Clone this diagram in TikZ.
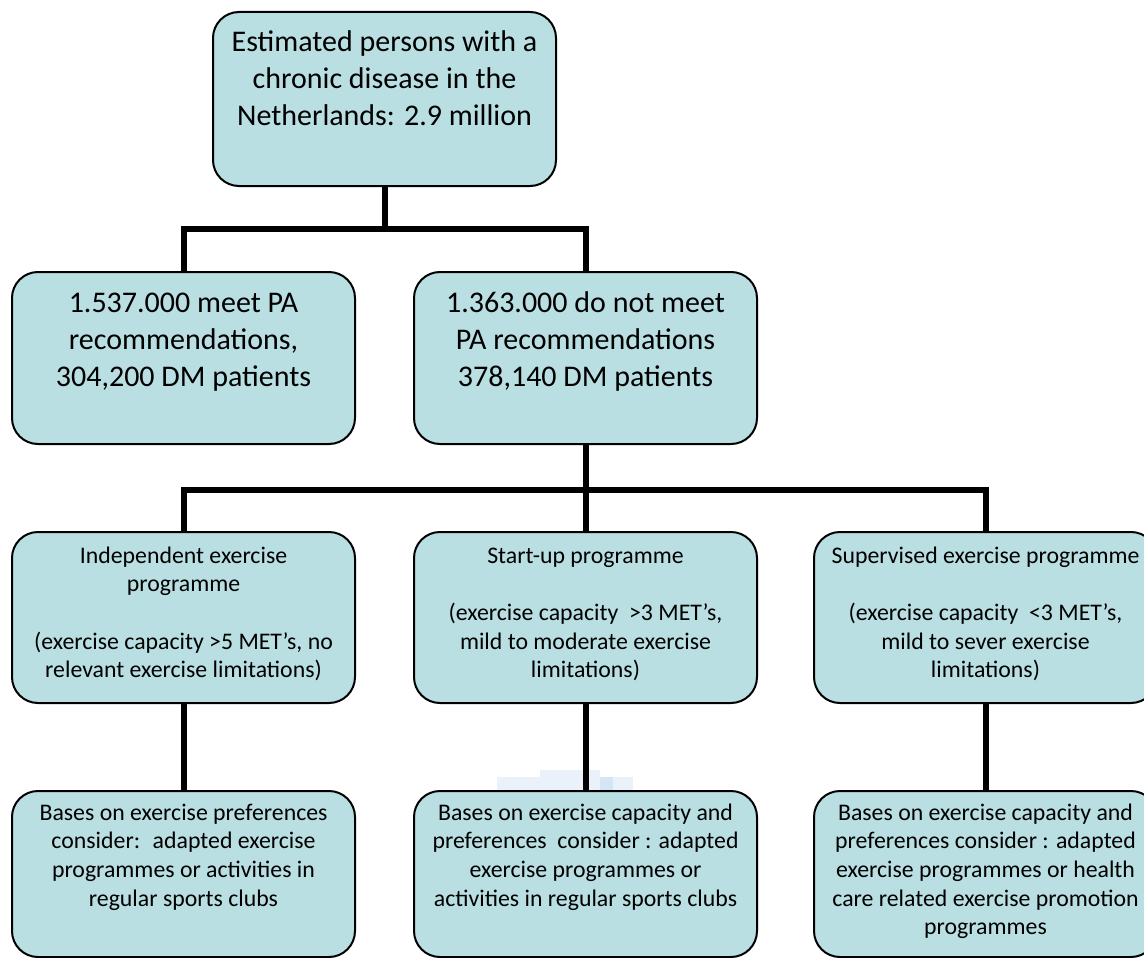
\documentclass[tikz,border=0pt]{standalone}
\usepackage{fontspec}
\setmainfont{Carlito}
\definecolor{boxfill}{RGB}{185,223,227}
\definecolor{smudgeA}{RGB}{234,241,250}
\definecolor{smudgeB}{RGB}{212,229,243}
\newcommand{\mytop}{\rule{0pt}{1em}}
\begin{document}
\begin{tikzpicture}[x=1pt,y=-1pt,
  box/.style={draw=black, line width=2pt, fill=boxfill, rounded corners=26pt,
    minimum width=343pt, minimum height=172pt, inner sep=0pt, outer sep=0pt, anchor=north west},
  big/.style={anchor=north, align=center, inner sep=0pt, font=\fontsize{30}{37}\selectfont},
  small/.style={anchor=north, align=center, inner sep=0pt, font=\fontsize{23.8}{28.7}\selectfont},
  conn/.style={line width=6pt, line join=miter}]
\useasboundingbox (0,0) rectangle (1144,958);
\clip (0,0) rectangle (1144,958);
% faint artefact
\fill[smudgeA] (497,777) rectangle (633,790);
\fill[smudgeA] (540,770) rectangle (600,777);
\fill[smudgeB] (600,777) rectangle (613,790);
% boxes
\node[box, minimum height=174pt] (top) at (213,12) {};
\node[box] (A) at (12,272) {};
\node[box] (B) at (414,272) {};
\node[box, minimum height=171pt] (C) at (12,532) {};
\node[box, minimum height=171pt] (D) at (414,532) {};
\node[box, minimum height=171pt] (E) at (814,532) {};
\node[box, minimum height=166pt] (F) at (12,791) {};
\node[box, minimum height=166pt] (G) at (414,791) {};
\node[box, minimum height=166pt] (H) at (814,791) {};
% junctions
\coordinate (j1) at (top.south |- {(0,229)});
\coordinate (j2) at (B.south |- {(0,490)});
% connectors
\draw[conn] (top.south) -- (j1);
\draw[conn] (A.north) |- (j1) -| (B.north);
\draw[conn] (B.south) -- (j2);
\draw[conn] (C.north) |- (j2) -| (E.north);
\draw[conn] (D.north) -- (j2);
\draw[conn] (C.south) -- (F.north);
\draw[conn] (D.south) -- (G.north);
\draw[conn] (E.south) -- (H.north);
% texts
\node[big] (topt) at (384.5,21) {\mytop Estimated persons with a\\chronic disease in the\\Netherlands: 2.9 million};
\node[big] (At) at (183.5,282) {\mytop 1.537.000 meet PA\\recommendations,\\304,200 DM patients};
\node[big] (Bt) at (585.5,282) {\mytop 1.363.000 do not meet\\PA recommendations\\378,140 DM patients};
\node[small] (Ct) at (183.5,539) {\mytop Independent exercise\\programme\\[28.7pt](exercise capacity >5 MET’s, no\\relevant exercise limitations)};
\node[small] (Dt) at (585.5,539) {\mytop Start-up programme\\[28.7pt](exercise capacity~ >3 MET’s,\\mild to moderate exercise\\limitations)};
\node[small] (Et) at (985.5,539) {\mytop Supervised exercise programme\\[28.7pt](exercise capacity~ <3 MET’s,\\mild to sever exercise\\limitations)};
\node[small] (Ft) at (183.5,796) {\mytop Bases on exercise preferences\\consider:~ adapted exercise\\programmes or activities in\\regular sports clubs};
\node[small] (Gt) at (585.5,796) {\mytop Bases on exercise capacity and\\preferences~ consider : adapted\\exercise programmes or\\activities in regular sports clubs};
\node[small] (Ht) at (985.5,796) {\mytop Bases on exercise capacity and\\preferences consider : adapted\\exercise programmes or health\\care related exercise promotion\\programmes};
\end{tikzpicture}
\end{document}
